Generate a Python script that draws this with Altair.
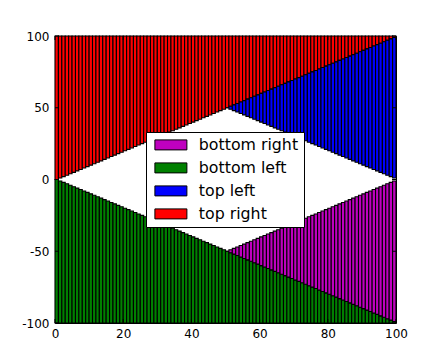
import altair as alt
import pandas as pd

# ---- data ----
x_left = [
    0, 1, 2, 3, 4, 5, 6, 7, 8, 9,
    10, 11, 12, 13, 14, 15, 16, 17, 18, 19,
    20, 21, 22, 23, 24, 25, 26, 27, 28, 29,
    30, 31, 32, 33, 34, 35, 36, 37, 38, 39,
    40, 41, 42, 43, 44, 45, 46, 47, 48, 49,
    50, 51, 52, 53, 54, 55, 56, 57, 58, 59,
    60, 61, 62, 63, 64, 65, 66, 67, 68, 69,
    70, 71, 72, 73, 74, 75, 76, 77, 78, 79,
    80, 81, 82, 83, 84, 85, 86, 87, 88, 89,
    90, 91, 92, 93, 94, 95, 96, 97, 98, 99,
]
red_bottom = [
    0, 1, 2, 3, 4, 5, 6, 7, 8, 9,
    10, 11, 12, 13, 14, 15, 16, 17, 18, 19,
    20, 21, 22, 23, 24, 25, 26, 27, 28, 29,
    30, 31, 32, 33, 34, 35, 36, 37, 38, 39,
    40, 41, 42, 43, 44, 45, 46, 47, 48, 49,
    50, 51, 52, 53, 54, 55, 56, 57, 58, 59,
    60, 61, 62, 63, 64, 65, 66, 67, 68, 69,
    70, 71, 72, 73, 74, 75, 76, 77, 78, 79,
    80, 81, 82, 83, 84, 85, 86, 87, 88, 89,
    90, 91, 92, 93, 94, 95, 96, 97, 98, 99,
]
green_top = [
    0, -1, -2, -3, -4, -5, -6, -7, -8, -9,
    -10, -11, -12, -13, -14, -15, -16, -17, -18, -19,
    -20, -21, -22, -23, -24, -25, -26, -27, -28, -29,
    -30, -31, -32, -33, -34, -35, -36, -37, -38, -39,
    -40, -41, -42, -43, -44, -45, -46, -47, -48, -49,
    -50, -51, -52, -53, -54, -55, -56, -57, -58, -59,
    -60, -61, -62, -63, -64, -65, -66, -67, -68, -69,
    -70, -71, -72, -73, -74, -75, -76, -77, -78, -79,
    -80, -81, -82, -83, -84, -85, -86, -87, -88, -89,
    -90, -91, -92, -93, -94, -95, -96, -97, -98, -99,
]
right_x = [
    50, 51, 52, 53, 54, 55, 56, 57, 58, 59,
    60, 61, 62, 63, 64, 65, 66, 67, 68, 69,
    70, 71, 72, 73, 74, 75, 76, 77, 78, 79,
    80, 81, 82, 83, 84, 85, 86, 87, 88, 89,
    90, 91, 92, 93, 94, 95, 96, 97, 98, 99,
]
blue_bottom = [
    50, 49, 48, 47, 46, 45, 44, 43, 42, 41,
    40, 39, 38, 37, 36, 35, 34, 33, 32, 31,
    30, 29, 28, 27, 26, 25, 24, 23, 22, 21,
    20, 19, 18, 17, 16, 15, 14, 13, 12, 11,
    10, 9, 8, 7, 6, 5, 4, 3, 2, 1,
]
blue_top = [
    50, 51, 52, 53, 54, 55, 56, 57, 58, 59,
    60, 61, 62, 63, 64, 65, 66, 67, 68, 69,
    70, 71, 72, 73, 74, 75, 76, 77, 78, 79,
    80, 81, 82, 83, 84, 85, 86, 87, 88, 89,
    90, 91, 92, 93, 94, 95, 96, 97, 98, 99,
]
magenta_top = [
    -50, -49, -48, -47, -46, -45, -44, -43, -42, -41,
    -40, -39, -38, -37, -36, -35, -34, -33, -32, -31,
    -30, -29, -28, -27, -26, -25, -24, -23, -22, -21,
    -20, -19, -18, -17, -16, -15, -14, -13, -12, -11,
    -10, -9, -8, -7, -6, -5, -4, -3, -2, -1,
]
magenta_bottom = [
    -50, -51, -52, -53, -54, -55, -56, -57, -58, -59,
    -60, -61, -62, -63, -64, -65, -66, -67, -68, -69,
    -70, -71, -72, -73, -74, -75, -76, -77, -78, -79,
    -80, -81, -82, -83, -84, -85, -86, -87, -88, -89,
    -90, -91, -92, -93, -94, -95, -96, -97, -98, -99,
]
TOP = 100
BOTTOM = -100

labels = ["bottom right", "bottom left", "top left", "top right"]
colors = ["#bf00bf", "#008000", "#0000ff", "#ff0000"]
x_ticks = [0, 20, 40, 60, 80, 100]
y_ticks = [-100, -50, 0, 50, 100]

BAR_W = 1
W, H = 341, 287
FONT = "DejaVu Sans"

rows = []
for xi, b in zip(x_left, red_bottom):
    rows.append(dict(x0=xi, x1=xi + BAR_W, y0=b, y1=TOP, s="top right"))
for xi, t in zip(x_left, green_top):
    rows.append(dict(x0=xi, x1=xi + BAR_W, y0=BOTTOM, y1=t, s="bottom left"))
for xi, b, t in zip(right_x, blue_bottom, blue_top):
    rows.append(dict(x0=xi, x1=xi + BAR_W, y0=b, y1=t, s="top left"))
for xi, b, t in zip(right_x, magenta_bottom, magenta_top):
    rows.append(dict(x0=xi, x1=xi + BAR_W, y0=b, y1=t, s="bottom right"))
df = pd.DataFrame(rows)

xs = alt.Scale(domain=[0, 100], nice=False, zero=False)
ys = alt.Scale(domain=[-100, 100], nice=False, zero=False)

x_axis = alt.Axis(
    values=x_ticks, ticks=False, domain=False, grid=False, labelFlush=False,
    labelPadding=5, title=None, labelFont=FONT, labelFontSize=12,
    labelColor="black", labelExpr="datum.value + ''")
y_axis = alt.Axis(
    values=y_ticks, ticks=False, domain=False, grid=False, labelFlush=False,
    labelPadding=6, title=None, labelFont=FONT, labelFontSize=12,
    labelColor="black", labelExpr="datum.value + ''")

bars = alt.Chart(df).mark_rect(stroke="black", strokeWidth=1.1).encode(
    x=alt.X("x0:Q", scale=xs, axis=x_axis),
    x2="x1",
    y=alt.Y("y0:Q", scale=ys, axis=y_axis),
    y2="y1",
    color=alt.Color("s:N", scale=alt.Scale(domain=labels, range=colors),
                    legend=alt.Legend(
                        title=None, orient="none", legendX=91, legendY=96,
                        fillColor="white", strokeColor="black", padding=5,
                        symbolType="M-0.8,-1H5.6V1H-0.8Z", symbolSize=100,
                        symbolStrokeColor="black", symbolStrokeWidth=1,
                        symbolOpacity=1, labelFont=FONT, labelFontSize=15.8,
                        labelColor="black", labelOffset=32, rowPadding=6.0,
                        cornerRadius=0)),
)

xt = pd.DataFrame({"v": x_ticks})
yt = pd.DataFrame({"v": y_ticks})
TL = 4
tick_style = dict(color="black", strokeWidth=1)
bottom_ticks = alt.Chart(xt).mark_rule(**tick_style).encode(
    x=alt.X("v:Q", scale=xs, axis=x_axis), y=alt.value(H), y2=alt.value(H - TL))
top_ticks = alt.Chart(xt).mark_rule(**tick_style).encode(
    x=alt.X("v:Q", scale=xs, axis=x_axis), y=alt.value(0), y2=alt.value(TL))
left_ticks = alt.Chart(yt).mark_rule(**tick_style).encode(
    y=alt.Y("v:Q", scale=ys, axis=y_axis), x=alt.value(0), x2=alt.value(TL))
right_ticks = alt.Chart(yt).mark_rule(**tick_style).encode(
    y=alt.Y("v:Q", scale=ys, axis=y_axis), x=alt.value(W), x2=alt.value(W - TL))

chart = alt.layer(bars, bottom_ticks, top_ticks, left_ticks, right_ticks).properties(
    width=W, height=H, autosize=alt.AutoSizeParams(type="none"),
    padding={"left": 55, "top": 36, "right": 44, "bottom": 37},
    background="white",
).configure_view(stroke="black", strokeWidth=1)

chart.save("out.html", embed_options={"renderer": "svg", "actions": False})
